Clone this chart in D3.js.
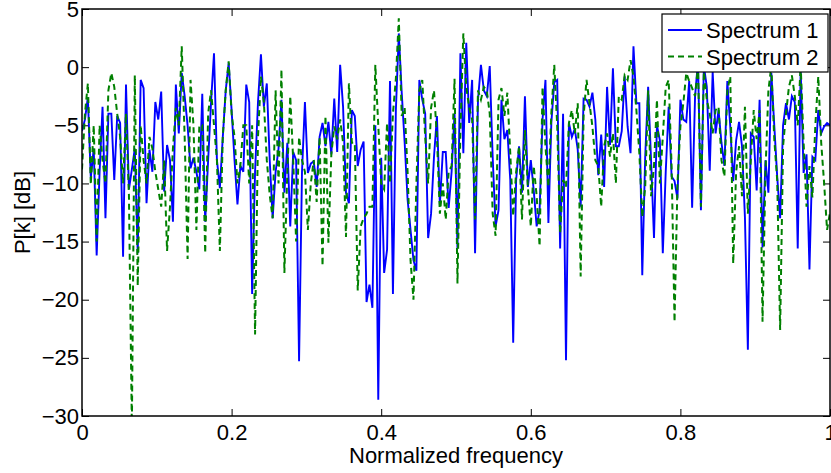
<!DOCTYPE html>
<html>
<head>
<meta charset="utf-8">
<script src="https://cdn.jsdelivr.net/npm/d3@7"></script>
<style>
  body { margin: 0; background: #fff; }
  svg { display: block; font-family: "Liberation Sans", Arial, sans-serif; }
  .axis text { font-size: 22px; fill: #000; }
  .axis line { stroke: #000; stroke-width: 1; }
  .axis path { display: none; }
</style>
</head>
<body>
<div id="chart"></div>
<script>
// spectrum values in dB, one per frequency bin
var spectrum1 = [
  -5.5, -4.5, -2.6, -9.5, -7, -16.2, -9, -3.4, -13, -4,
  -4, -9.7, -4.2, -4.8, -16.3, -1.5, -10.5, -8.8, -7, -16,
  -1.1, -1.8, -11.7, -7.1, -9, -3, -4.5, -2.1, -10.7, -6.7,
  -8, -13.3, -1.5, -5.7, -0.5, -2.5, -5, -8.7, -7.8, -9,
  -10.5, -2.3, -13.3, -8, -3, 1.2, -8, -10.4, -6, -2,
  0.35, -3.7, -8, -11.8, -8.5, -9, -1.5, -3, -19.5, -9,
  -3, 1.1, -3.4, -1.4, -8, -13, -9, -7, -2.8, -10.8,
  -6.5, -13.7, -7.3, -8, -25.3, -9, -3, -9.1, -8.3, -8.1,
  -10.3, -6, -4.8, -6.8, -4.7, -7.5, -2.7, -7.3, 0.2, -3.4,
  -10.8, -11.7, -3.7, -4.2, -8.5, -7.1, -6.4, -20.2, -18.7, -20.7,
  -5, -28.6, -7.8, -17.7, -15.7, -1.2, -19.5, -3.7, 2.9, -2.2,
  -6.5, -11.4, -14, -16.6, -17.5, -1.1, -2.8, -4, -14.7, -12.6,
  -7.7, -4.2, -11.8, -7.3, -7.3, -12.1, -9, -4, -15.6, 1.2,
  -7.4, 2.1, -4.8, -1.1, -16, -2.8, 0.2, -2, -2.5, 0.1,
  -7.7, -13.7, -12.3, -2.8, -6.2, -5.4, -9.7, -23.7, -9.7, -6.8,
  -10.8, -2.5, -10.3, -8, -10.6, -13.7, -12.3, -4.5, -1.1, -13.4,
  -4.8, -1.3, -1.1, -15.6, -4, -25.2, -4.8, -6, -5.3, -7.1,
  -12, -2.7, -2.8, -3.4, -2.2, -4.5, -9.3, -5.8, -10.3, -1.7,
  -6.7, -0.1, -6.8, -6.8, -5.5, -0.8, -5.1, -7.4, 1.8, -3.1,
  -3.1, -17.9, -7.7, -1.7, -8, -14.7, -5, -6.3, -16, -9,
  -3.4, -9.4, -9.8, -11.3, -2.8, -4.5, -4.7, -1.2, -12.1, -2.5,
  0.5, -12.3, 0.1, -1.7, -8.9, -0.4, -5.7, -3.7, -6.5, -8.5,
  -1.2, -5.1, -9.8, -6.3, -4.7, -6.8, -12.9, -24.3, -5.7, -6,
  -10.6, -2.8, -15.5, -8, -10.8, -0.5, -5, -9.4, -13, -5,
  -3.1, -4.5, -2.5, -3, -15.6, -0.2, -9.1, -7.5, -17.4, -7.7,
  -8, -3.7, -5.7, -5.1, -4.8, -5
];
var spectrum2 = [
  -8.8, -4, -1.4, -10.1, -5, -15, -5, -8, -10, -2,
  -0.5, -1.7, -4, -6, -10, -4, -11, -31, -0.7, -18.8,
  -5, -8, -10, -6, -7, -9, -10.5, -12, -8, -15.8,
  -12, -7, -3.5, -5, 1.8, -6, -16.5, -1.1, -5, -14,
  -5, -5, -16, -4, -2, -5, -8, -15.8, -6, -2,
  0.5, -4, -6, -10, -8.5, -5, -5, -10, -5, -23,
  -6, -0.8, -3, -8, -11, -13, -2, -10, -0.2, -17.7,
  -9, -2.5, -8, -15, -6, -8, -9, -14, -10, -8,
  -11.6, -6, -17.1, -4.2, -15.1, -7.5, -5.1, -6.2, -4.5, -6.5,
  -14.6, -1.4, -6.5, -6.5, -19.2, -13.7, -13, -12.6, -12, -12,
  0.2, -5, -10, -10.5, -4.8, -10, -4, -1, 4.2, -4.2,
  -3.5, -9, -16.6, -20, -10, -2, -1.1, -6, -10, -3.5,
  -2, -6, -12.6, -10, -13.1, -9, -8.5, -1, -18.6, -5.5,
  2.9, -1.7, -3.5, -4.5, -13.1, -2, -2.8, -1.7, -2, -4,
  -12.6, -14.5, -2.8, -1.8, -4.2, -2.2, -7.4, -12.8, -9, -6.8,
  -13.1, -5.4, -10.3, -13.7, -8.5, -11.1, -15.4, -1.7, -6.8, -10.3,
  -4, 0.2, -5, -14.3, -9.7, -10.3, -4.8, -3.7, -5.7, -3.1,
  -18, -4.2, -1.1, -3.1, -5.1, -8, -8.5, -12, -6.8, -5.7,
  -7.7, -5.7, -10, -2.5, -2.8, -0.7, -1.1, 0.6, -0.8, -3.7,
  -7.4, -12.9, -10.3, -2, -11.1, -8.5, -2.8, -10, -6, -1.7,
  -1.1, -8.5, -21.9, -10, -5.1, -3.1, -0.5, -1.2, -1.8, -2.5,
  0.1, -12, -0.4, -2.8, -4, -5.7, -3.7, -3.4, -8, -9.4,
  -2, -0.8, -16.9, -9, -6.8, -11.1, -3.4, -12.6, -8, -3.7,
  -6.2, -3.7, -21.9, -9, -2, 0.1, -6.2, -9.7, -22.6, -6.8,
  -4, -1.7, -0.7, -2.5, -5, 0.2, -6.5, -12, -8.5, -11.2,
  -5, -0.8, -6.5, -10, -14, -12.5
];
var xTicks = [0, 0.2, 0.4, 0.6, 0.8, 1];
var yTicks = [-30, -25, -20, -15, -10, -5, 0, 5];
var seriesNames = ["Spectrum 1", "Spectrum 2"];

var W = 831, H = 473;
var margin = { top: 9, right: 1, bottom: 57, left: 82 };
var width = W - margin.left - margin.right;
var height = H - margin.top - margin.bottom;

// normalized frequency of bin i
var freq = function(i) { return i / (spectrum1.length - 1); };

var x = d3.scaleLinear().domain([0, 1]).range([0, width]);
var y = d3.scaleLinear().domain([-30, 5]).range([height, 0]);

var svg = d3.select("#chart").append("svg")
  .attr("width", W)
  .attr("height", H)
  .append("g")
  .attr("transform", "translate(" + margin.left + "," + margin.top + ")");

svg.append("clipPath").attr("id", "plot-clip")
  .append("rect").attr("width", width).attr("height", height);

var fmtX = function(d) { return String(+d.toFixed(1)); };

// axes, ticks pointing inward on all four sides
svg.append("g").attr("class", "axis")
  .attr("transform", "translate(0," + height + ")")
  .call(d3.axisBottom(x).tickValues(xTicks).tickFormat(fmtX).tickSize(-7).tickPadding(8));
svg.append("g").attr("class", "axis")
  .call(d3.axisTop(x).tickValues(xTicks).tickFormat("").tickSize(-7));
svg.append("g").attr("class", "axis")
  .call(d3.axisLeft(y).tickValues(yTicks).tickFormat(d3.format("d")).tickSize(-7).tickPadding(3));
svg.append("g").attr("class", "axis")
  .attr("transform", "translate(" + width + ",0)")
  .call(d3.axisRight(y).tickValues(yTicks).tickFormat("").tickSize(-7));

var line = d3.line()
  .x(function(d, i) { return x(freq(i)); })
  .y(function(d) { return y(d); });

var plot = svg.append("g").attr("clip-path", "url(#plot-clip)");
plot.append("path")
  .datum(spectrum1)
  .attr("fill", "none")
  .attr("stroke", "#0000ff")
  .attr("stroke-width", 1.9)
  .attr("d", line);
plot.append("path")
  .datum(spectrum2)
  .attr("fill", "none")
  .attr("stroke", "#008000")
  .attr("stroke-width", 2)
  .attr("stroke-dasharray", "6,4")
  .attr("d", line);

// box
svg.append("rect")
  .attr("width", width)
  .attr("height", height)
  .attr("fill", "none")
  .attr("stroke", "#000")
  .attr("stroke-width", 1.5);

// axis titles
svg.append("text")
  .attr("x", width / 2)
  .attr("y", height + 47)
  .attr("text-anchor", "middle")
  .style("font-size", "22px")
  .text("Normalized frequency");
svg.append("text")
  .attr("transform", "translate(-52," + (height / 2) + ") rotate(-90)")
  .attr("text-anchor", "middle")
  .style("font-size", "22px")
  .text("P[k] [dB]");

// legend
var lg = svg.append("g").attr("transform", "translate(" + (width - 168) + ",5)");
lg.append("rect")
  .attr("width", 166)
  .attr("height", 58)
  .attr("fill", "#fff")
  .attr("stroke", "#000")
  .attr("stroke-width", 1.2);
var colors = ["#0000ff", "#008000"];
seriesNames.forEach(function(name, k) {
  var yy = 16 + k * 26.5;
  lg.append("line")
    .attr("x1", 6).attr("x2", 40)
    .attr("y1", yy).attr("y2", yy)
    .attr("stroke", colors[k])
    .attr("stroke-width", k ? 2 : 1.9)
    .attr("stroke-dasharray", k ? "6,4" : null);
  lg.append("text")
    .attr("x", 44)
    .attr("y", yy + 8)
    .style("font-size", "22px")
    .text(name);
});
</script>
</body>
</html>
